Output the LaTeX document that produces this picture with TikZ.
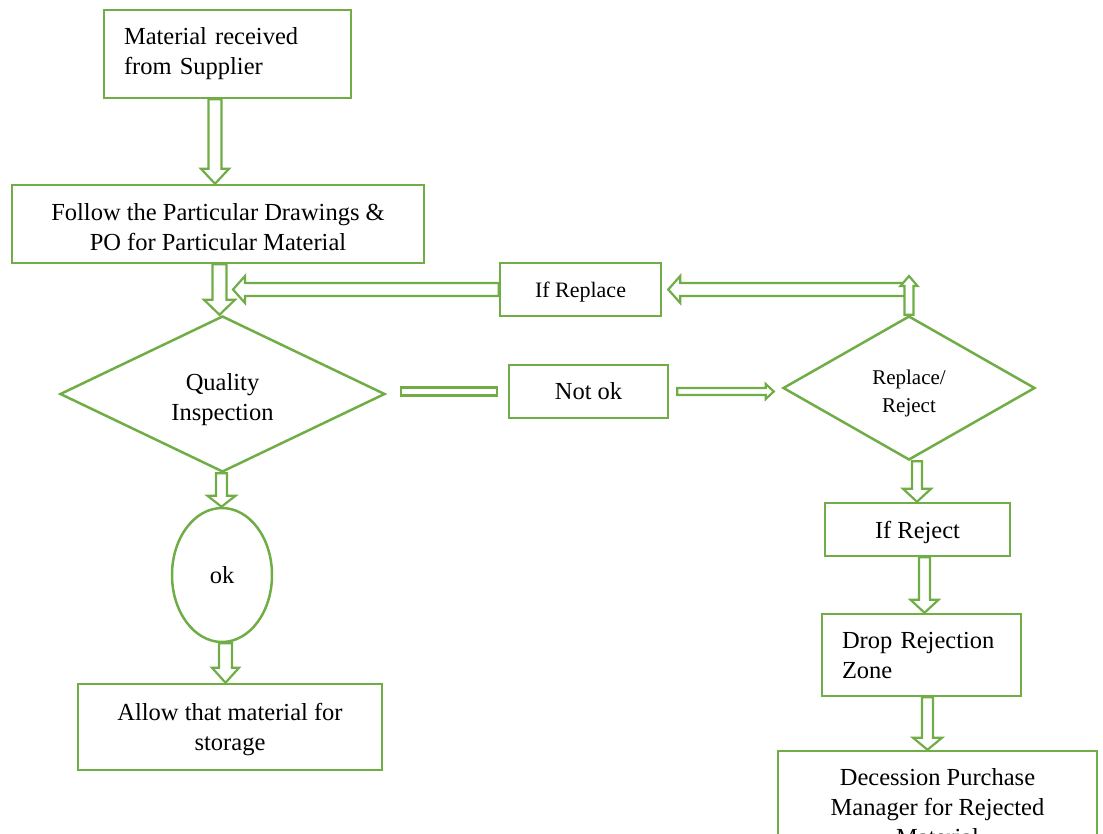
\documentclass[tikz,border=0pt]{standalone}
\usepackage{fontspec}
\setmainfont{Liberation Serif}
\usepackage{tikz}
\usetikzlibrary{calc,shapes.geometric}
\definecolor{greenx}{HTML}{70AD47}
\tikzset{
  box/.style={draw=greenx,line width=2.5pt,align=center,inner sep=0pt,font=\fontsize{24.5}{30}\selectfont},
  lbox/.style={box,align=left,inner xsep=20pt},
  dia/.style={diamond,draw=greenx,line width=2.5pt,align=center,inner sep=0pt,shape aspect=2,font=\fontsize{24.5}{30}\selectfont},
  blk/.style={draw=greenx,line width=2.2pt,fill=white,line join=miter}
}
\newcommand{\lo}[2][3pt]{\raisebox{-#1}[\height][\depth]{#2}}
\newcommand{\blkar}[5]{%
  \draw[blk] let \p1=#1, \p2=#2, \p3=($(\p2)!#5pt!(\p1)$) in
    ($(\p1)!#3pt!90:(\p2)$) -- ($(\p3)!#3pt!-90:(\p1)$) -- ($(\p3)!#4pt!-90:(\p1)$) -- (\p2)
    -- ($(\p3)!#4pt!90:(\p1)$) -- ($(\p3)!#3pt!90:(\p1)$) -- ($(\p1)!#3pt!-90:(\p2)$) -- cycle;}
\begin{document}
\begin{tikzpicture}[x=1pt,y=-1pt]
\useasboundingbox (0,0) rectangle (1103,833);
\node[lbox,text width=207pt,minimum height=88pt] (mat) at (227.5,54) {Material received\\from Supplier};
\node[box,minimum width=412pt,minimum height=78pt] (fol) at (218,224) {\lo{Follow the Particular Drawings \&}\\\lo{PO for Particular Material}};
\node[dia,minimum width=325pt,minimum height=156pt] (qi) at (222.5,394) {\lo[6pt]{Quality}\\\lo[6pt]{Inspection}};
\node[box,minimum width=161pt,minimum height=53pt,font=\fontsize{22}{28}\selectfont] (rep) at (580.5,289.5) {\lo{If Replace}};
\node[box,minimum width=159pt,minimum height=53pt] (nok) at (588.5,391.5) {Not ok};
\node[dia,minimum width=252pt,minimum height=144pt,font=\fontsize{21}{28}\selectfont] (rr) at (909,388) {\lo[5pt]{Replace/}\\\lo[5pt]{Reject}};
\node[box,minimum width=185pt,minimum height=53pt] (rej) at (917.5,529.5) {\lo{If Reject}};
\node[lbox,text width=159pt,minimum height=82pt] (drop) at (921.5,655) {Drop Rejection\\Zone};
\node[box,minimum width=319pt,minimum height=112pt] (dec) at (937.5,807) {Decession Purchase\\Manager for Rejected\\Material};
\node[ellipse,draw=greenx,line width=2.5pt,inner sep=0pt,minimum width=100pt,minimum height=134pt,font=\fontsize{24.5}{30}\selectfont] (ok) at (222,575) {ok};
\node[box,minimum width=304pt,minimum height=86pt] (alw) at (230,727) {\lo{Allow that material for}\\\lo{storage}};
\coordinate (mrg) at (233,289.5);
\coordinate (rtop) at (909,276);
\coordinate (rjn) at (909,289.5);
\blkar{([xshift=-12.5pt]mat.south)}{([xshift=-3pt]fol.north)}{6.5}{14}{15}
\blkar{([xshift=1.5pt]fol.south)}{([xshift=-3pt]qi.north)}{7}{15.5}{15}
\blkar{(rep.west)}{(mrg)}{6.5}{13.5}{12}
\blkar{(rjn)}{([xshift=6pt]rep.east)}{6.5}{13.5}{12}
\blkar{(rr.north)}{(rtop)}{4.5}{8.5}{10}
\blkar{($(qi.east |- nok.west)+(15,0)$)}{($(nok.west)+(-11,0)$)}{4}{4}{0}
\blkar{([xshift=8pt]nok.east)}{($(rr.west |- nok.east)+(-8,0)$)}{3.5}{7.5}{8}
\blkar{([xshift=8pt]rr.south)}{([xshift=-0.5pt]rej.north)}{5}{14}{13}
\blkar{([xshift=7pt]rej.south)}{([xshift=3pt]drop.north)}{5.5}{14}{13}
\blkar{([xshift=6pt]drop.south)}{([xshift=-10pt]dec.north)}{5.5}{14.5}{12}
\blkar{([xshift=-1pt]qi.south)}{([xshift=-0.5pt]ok.north)}{5.5}{14}{11}
\blkar{([xshift=3.5pt]ok.south)}{([xshift=-4.5pt]alw.north)}{6.5}{13.5}{15}
\end{tikzpicture}
\end{document}
